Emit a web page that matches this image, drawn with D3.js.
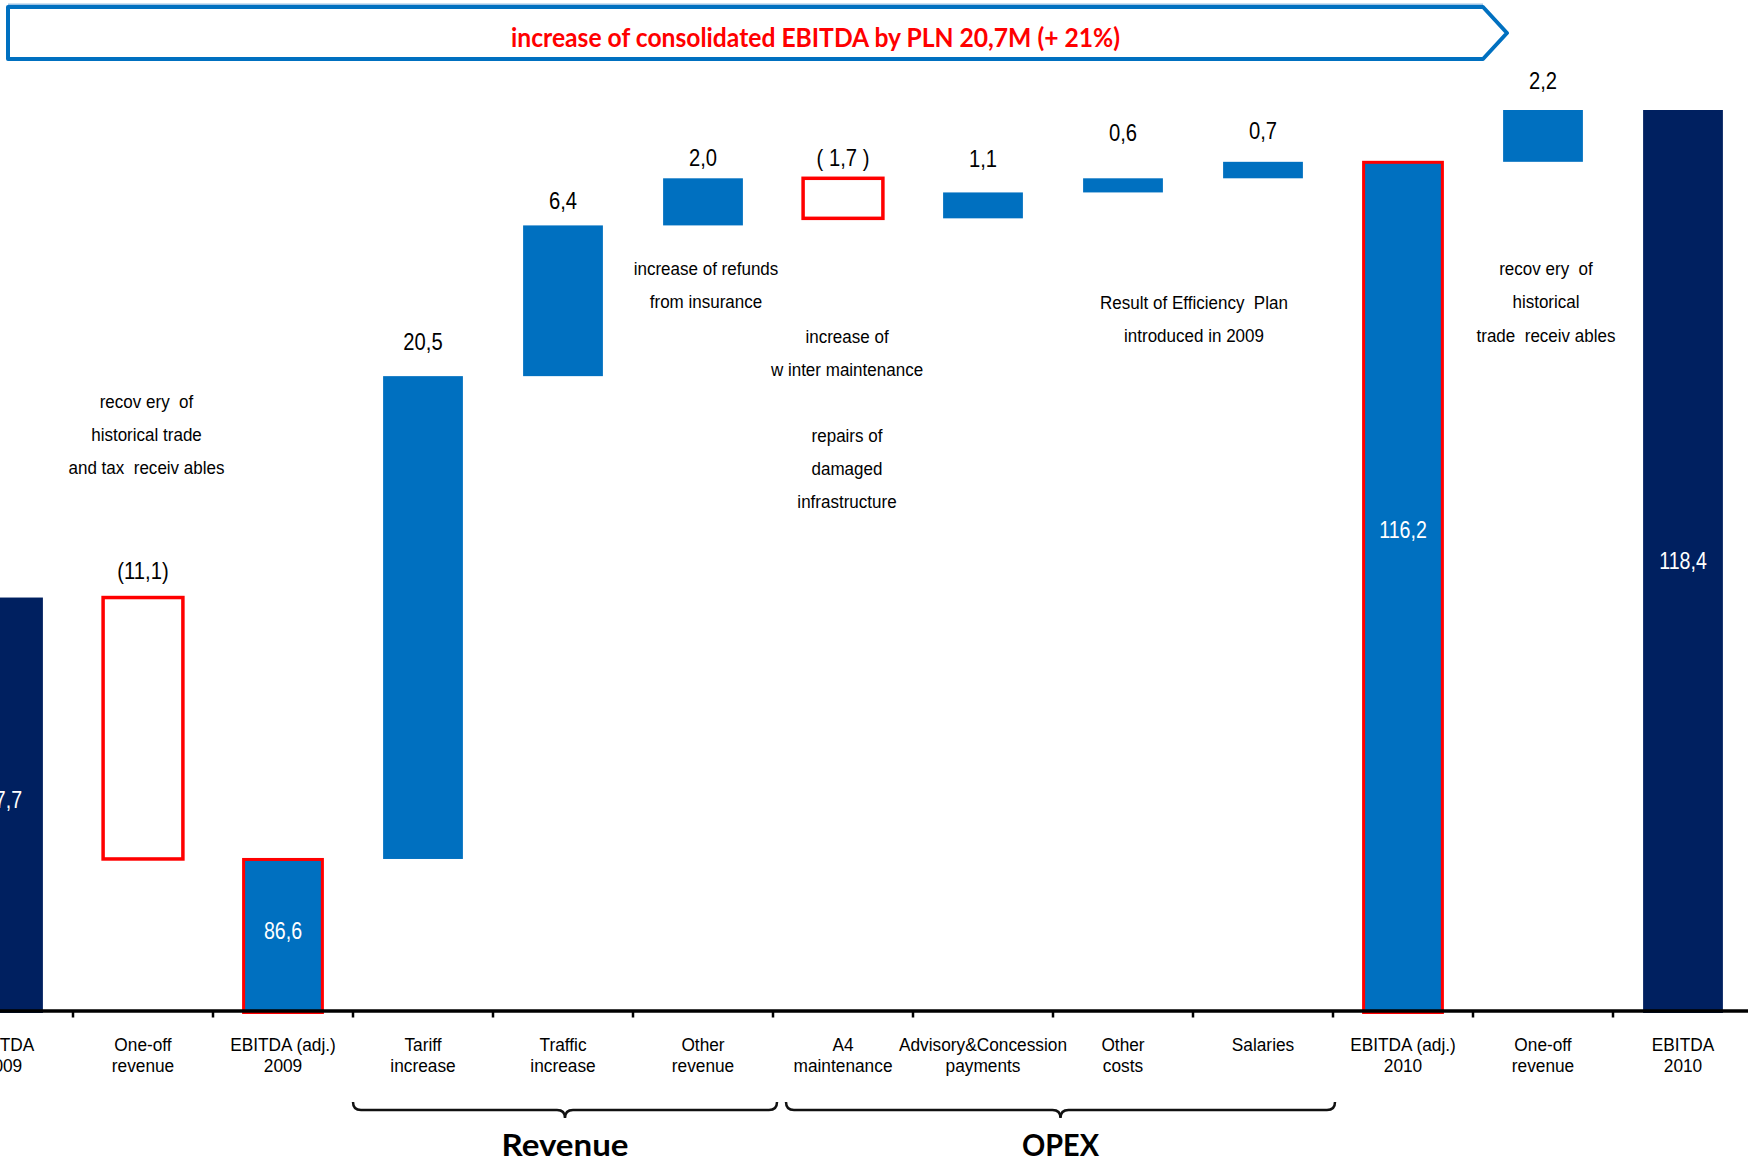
<!DOCTYPE html>
<html>
<head>
<meta charset="utf-8">
<script src="https://cdn.jsdelivr.net/npm/d3@7"></script>
<style>
  html, body { margin: 0; padding: 0; background: #fff; }
  svg { display: block; }
</style>
</head>
<body>
<svg id="chart" width="1748" height="1162"></svg>
<script>
// ---------- DATA ----------
const categories = [
  "EBITDA\n2009", "One-off\nrevenue", "EBITDA (adj.)\n2009", "Tariff\nincrease",
  "Traffic\nincrease", "Other\nrevenue", "A4\nmaintenance", "Advisory&Concession\npayments",
  "Other\ncosts", "Salaries", "EBITDA (adj.)\n2010", "One-off\nrevenue", "EBITDA\n2010"
];
const values = [97.7, -11.1, 86.6, 20.5, 6.4, 2.0, -1.7, 1.1, 0.6, 0.7, 116.2, 2.2, 118.4];
const kinds  = ["total", "neg", "adj", "pos", "pos", "pos", "neg", "pos", "pos", "pos", "adj", "pos", "total"];
const valueLabels = ["97,7", "(11,1)", "86,6", "20,5", "6,4", "2,0", "( 1,7 )", "1,1", "0,6", "0,7", "116,2", "2,2", "118,4"];
const groups = [
  { name: "Revenue", from: 3, to: 5 },
  { name: "OPEX", from: 6, to: 9 }
];
const notes = [
  { at: 1,  lines: ["recov ery  of", "historical trade", "and tax  receiv ables"] },
  { at: 5,  lines: ["increase of refunds", "from insurance"] },
  { at: 6,  lines: ["increase of", "w inter maintenance"] },
  { at: 6,  lines: ["repairs of", "damaged", "infrastructure"] },
  { at: 8.5, lines: ["Result of Efficiency  Plan", "introduced in 2009"] },
  { at: 11, lines: ["recov ery  of", "historical", "trade  receiv ables"] }
];
const title = "increase of consolidated EBITDA by PLN 20,7M (+ 21%)";
const axisBase = 80.06;

// ---------- LAYOUT (not data) ----------
const labelGap = [0, 19, 0, 26, 16, 12, 12, 25, 37, 23, 0, 21, 0];
const innerNudge = [-4.5, 0, -3.5, 0, 0, 0, 0, 0, 0, 0, -56, 0, 0];
const noteTop = [407.5, 275, 342.5, 441.5, 309, 275];
const noteDx = [3.5, 3, 4, 4, 1, 3];
const braceTrim = [[0, 4], [13, 2]];

const COL_BLUE = "#0070C0", COL_NAVY = "#002060", COL_RED = "#FF0000";
const FONT = "'Liberation Sans', Arial, sans-serif";

const svg = d3.select("#chart");

const x = d3.scaleBand()
  .domain(d3.range(categories.length))
  .range([-67, 1753])
  .paddingInner(0.43)
  .paddingOuter(0.215);

const y = d3.scaleLinear().domain([axisBase, 118.4]).range([1013, 110]);

// compute waterfall geometry
let running = 0;
const bars = values.map((v, i) => {
  let lo, hi;
  if (kinds[i] === "total" || kinds[i] === "adj") {
    lo = axisBase; hi = v; running = v;
  } else {
    const s = running, e = running + v;
    lo = Math.min(s, e); hi = Math.max(s, e); running = e;
  }
  return { i, lo, hi, kind: kinds[i] };
});

function txt(g, cx, cy, lines, size, sx, lineH, fill, weight) {
  const t = g.append("text")
    .attr("transform", `translate(${cx},${cy}) scale(${sx},1)`)
    .attr("text-anchor", "middle")
    .style("font-family", FONT)
    .style("font-size", size + "px")
    .style("font-weight", weight || "normal")
    .style("white-space", "pre")
    .attr("fill", fill || "#000");
  lines.forEach((l, k) => t.append("tspan").attr("x", 0).attr("dy", k ? lineH : 0).text(l));
  return t;
}

// ---------- HEADER ARROW ----------
const hdr = svg.append("g");
hdr.append("line").attr("x1", 8).attr("x2", 1483).attr("y1", 4.5).attr("y2", 4.5)
  .attr("stroke", "#9DC3E6").attr("stroke-width", 2);
hdr.append("path")
  .attr("d", "M8,7 L1483,7 L1507,33 L1483,59 L8,59 Z")
  .attr("fill", "#fff").attr("stroke", COL_BLUE).attr("stroke-width", 4).attr("stroke-linejoin", "round");
hdr.append("text")
  .attr("x", 815.5).attr("y", 46.5)
  .attr("text-anchor", "middle")
  .attr("textLength", 609).attr("lengthAdjust", "spacingAndGlyphs")
  .style("font-family", "Lato, 'Open Sans', sans-serif")
  .style("font-weight", "bold").style("font-size", "26px")
  .attr("fill", COL_RED).text(title);

// ---------- BARS ----------
const bw = x.bandwidth();
const gBars = svg.append("g");
bars.forEach(b => {
  const x0 = x(b.i), y0 = y(b.hi), h = y(b.lo) - y(b.hi);
  if (b.kind === "neg") {
    gBars.append("rect").attr("x", x0).attr("y", y0)
      .attr("width", bw).attr("height", h)
      .attr("fill", "#fff").attr("stroke", COL_RED).attr("stroke-width", 3.5);
  } else if (b.kind === "adj") {
    gBars.append("rect").attr("x", x0).attr("y", y0).attr("width", bw).attr("height", h).attr("fill", COL_BLUE);
    gBars.append("rect").attr("x", x0 + 0.5).attr("y", y0 + 0.5)
      .attr("width", bw - 1).attr("height", h - 1)
      .attr("fill", "none").attr("stroke", COL_RED).attr("stroke-width", 3);
  } else {
    gBars.append("rect").attr("x", x0).attr("y", y0).attr("width", bw).attr("height", h)
      .attr("fill", b.kind === "total" ? COL_NAVY : COL_BLUE);
  }
});

// ---------- AXIS ----------
const axisY = 1010.5;
const gAxis = svg.append("g").attr("transform", `translate(0,${axisY})`)
  .call(d3.axisBottom(x).tickSize(0).tickSizeOuter(0).tickFormat(""));
gAxis.select(".domain").attr("stroke", "#000").attr("stroke-width", 3.5);
const halfGap = x.step() * x.paddingInner() / 2;
x.domain().slice(1).forEach(i => {
  const tx = x(i) - halfGap;
  svg.append("line").attr("x1", tx).attr("x2", tx).attr("y1", axisY).attr("y2", 1017.5)
    .attr("stroke", "#000").attr("stroke-width", 2.5);
});

// category labels
const gCat = svg.append("g");
categories.forEach((c, i) => {
  txt(gCat, x(i) + bw / 2, 1050.5, c.split("\n"), 18.7, 0.925, 21.8, "#000");
});

// ---------- VALUE LABELS ----------
const gLab = svg.append("g");
bars.forEach(b => {
  const cx = x(b.i) + bw / 2;
  if (b.kind === "total" || b.kind === "adj") {
    const mid = (y(b.hi) + y(b.lo)) / 2 + 7 + innerNudge[b.i];
    txt(gLab, cx, mid, [valueLabels[b.i]], 24.5, 0.8, 0, "#fff");
  } else {
    txt(gLab, cx, y(b.hi) - labelGap[b.i], [valueLabels[b.i]], 23.5, 0.86, 0, "#000");
  }
});

// ---------- ANNOTATIONS ----------
const gNote = svg.append("g");
notes.forEach((n, k) => {
  const cx = x.step() * n.at + x(0) + bw / 2 + noteDx[k];
  txt(gNote, cx, noteTop[k], n.lines, 18.5, 0.92, 33.4, "#000");
});

// ---------- GROUP BRACES ----------
const gBr = svg.append("g");
groups.forEach((g, k) => {
  const x0 = x(g.from) - halfGap + braceTrim[k][0], x1 = x(g.to) + bw + halfGap + braceTrim[k][1];
  const cx = (x0 + x1) / 2;
  const yt = 1102, yh = 1110, yc = 1118, r = 8;
  const p = `M${x0},${yt} Q${x0},${yh} ${x0 + r},${yh} L${cx - r},${yh} Q${cx},${yh} ${cx},${yc} ` +
            `Q${cx},${yh} ${cx + r},${yh} L${x1 - r},${yh} Q${x1},${yh} ${x1},${yt}`;
  gBr.append("path").attr("d", p).attr("fill", "none").attr("stroke", "#111").attr("stroke-width", 2.5);
  gBr.append("text").attr("x", cx).attr("y", 1156)
    .attr("text-anchor", "middle")
    .attr("textLength", g.name === "Revenue" ? 127 : 77).attr("lengthAdjust", "spacingAndGlyphs")
    .style("font-family", "Lato, 'Open Sans', sans-serif")
    .style("font-weight", "bold").style("font-size", "31px")
    .attr("fill", "#000").text(g.name);
});
</script>
</body>
</html>
